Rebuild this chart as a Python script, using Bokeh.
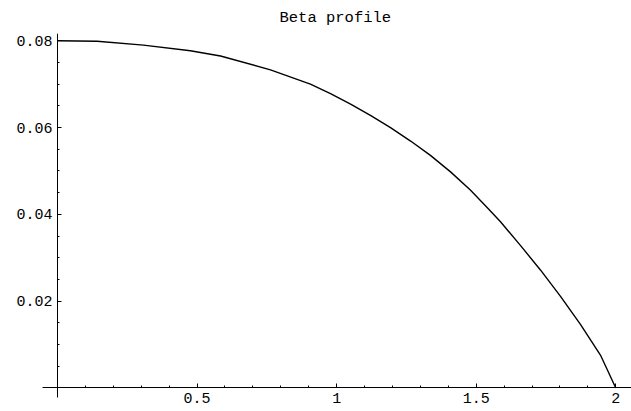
from bokeh.plotting import figure
from bokeh.models import FixedTicker, Range1d, Title
from bokeh.embed import file_html
from bokeh.resources import INLINE

# Data
x_vals = [0.0, 0.142, 0.308, 0.476, 0.584, 0.763, 0.906, 0.978, 1.050, 1.121,
          1.193, 1.265, 1.336, 1.408, 1.479, 1.545, 1.587, 1.659, 1.730, 1.802,
          1.874, 1.945, 2.0]
beta = [0.0800, 0.0799, 0.0790, 0.0777, 0.0765, 0.0733, 0.0700, 0.0678, 0.0654,
        0.0628, 0.0600, 0.0569, 0.0536, 0.0498, 0.0456, 0.0412, 0.0383, 0.0328,
        0.0272, 0.0211, 0.0146, 0.0076, 0.0]

x_ticks = [0.5, 1.0, 1.5, 2.0]
x_tick_labels = ["0.5", "1", "1.5", "2"]
x_minor = [0.1, 0.2, 0.3, 0.4, 0.6, 0.7, 0.8, 0.9, 1.1, 1.2, 1.3, 1.4,
           1.6, 1.7, 1.8, 1.9]
y_ticks = [0.02, 0.04, 0.06, 0.08]
y_tick_labels = ["0.02", "0.04", "0.06", "0.08"]
y_minor = [0.005, 0.01, 0.015, 0.025, 0.03, 0.035, 0.045, 0.05, 0.055,
           0.065, 0.07, 0.075]
title_text = "Beta profile"

FONT = "Liberation Mono"

p = figure(width=631, height=411, output_backend="svg", toolbar_location=None,
           x_range=Range1d(-0.2042, 2.0563), y_range=Range1d(-0.005415, 0.08168),
           min_border_left=0, min_border_right=0, min_border_top=33,
           min_border_bottom=0)
p.outline_line_color = None
p.grid.visible = False
p.background_fill_color = "white"
p.border_fill_color = "white"

p.title = Title(text=title_text, align="left", offset=279,
                text_font=FONT, text_font_size="15.5px", text_font_style="normal",
                text_color="black", standoff=13)

p.line(x_vals, beta, line_color="black", line_width=1.4)

xa = p.xaxis[0]
ya = p.yaxis[0]
xa.fixed_location = 0
ya.fixed_location = 0
xa.bounds = (-0.0537, 2.1)
ya.bounds = (-0.0022, 0.0817)
xa.ticker = FixedTicker(ticks=x_ticks, minor_ticks=x_minor)
ya.ticker = FixedTicker(ticks=y_ticks, minor_ticks=y_minor)
xa.major_label_overrides = dict(zip(x_ticks, x_tick_labels))
ya.major_label_overrides = dict(zip(y_ticks, y_tick_labels))

for ax in (xa, ya):
    ax.axis_line_color = "black"
    ax.axis_line_width = 1
    ax.major_tick_line_color = "black"
    ax.minor_tick_line_color = "black"
    ax.major_tick_in = 4
    ax.major_tick_out = 0
    ax.minor_tick_in = 2
    ax.minor_tick_out = 0
    ax.major_label_text_font = FONT
    ax.major_label_text_font_size = "15px"
    ax.major_label_text_color = "black"
xa.major_label_standoff = 5
ya.major_label_standoff = 5

open("out.html", "w").write(file_html(p, INLINE))
